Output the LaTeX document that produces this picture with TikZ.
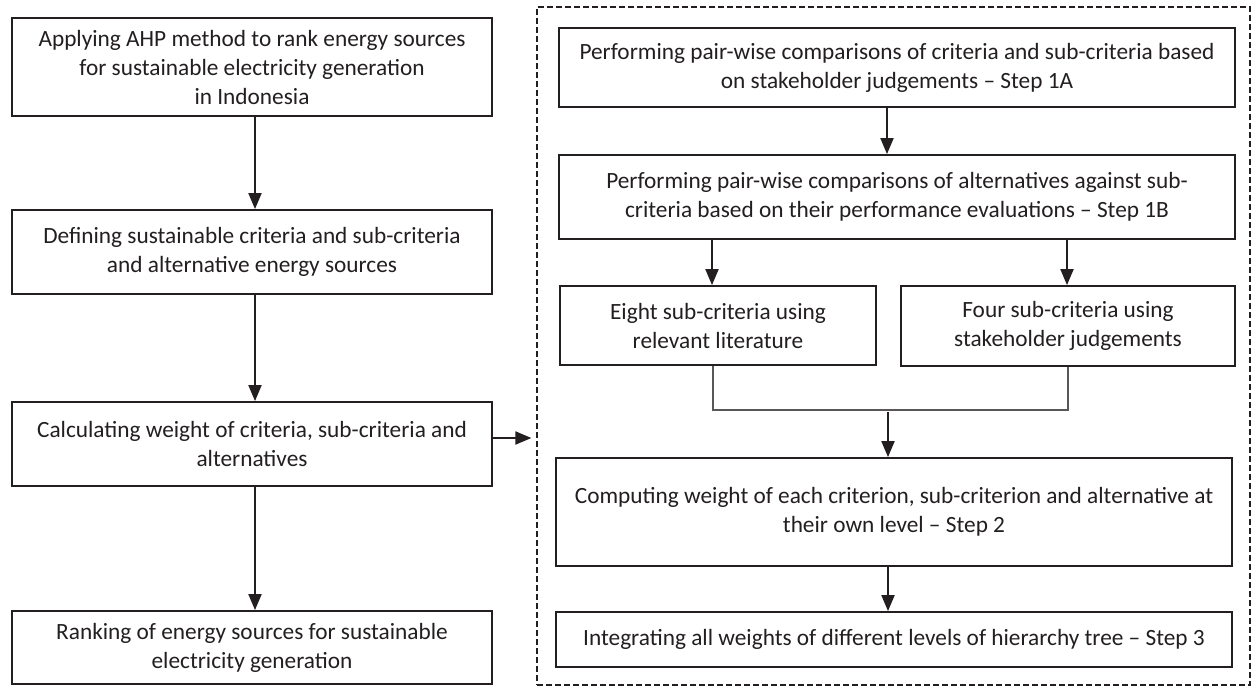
\documentclass[tikz,border=0pt]{standalone}
\usepackage{fontspec}
\setmainfont{Carlito}
\usetikzlibrary{arrows.meta}
\definecolor{ink}{HTML}{231F20}
\begin{document}
\begin{tikzpicture}[x=1pt,y=-1pt,
  box/.style={draw=ink,line width=1.8pt,align=center,inner sep=0pt,
    font=\fontsize{23.3}{29}\selectfont,text=ink},
  arr/.style={draw=ink,line width=1.9pt,-{Triangle[length=16pt,width=13pt]}},
  thinline/.style={draw=ink!75,line width=1.1pt},
  frame/.style={draw=ink,line width=1.2pt,dash pattern=on 6pt off 3pt,inner sep=0pt}]
\useasboundingbox (0,0) rectangle (1254,686);
\fill[white] (0,0) rectangle (1254,686);
% left column
\node[box,minimum width=480,minimum height=98] (b1) at (252,67)
  {Applying AHP method to rank energy sources\\for sustainable electricity generation\\in Indonesia};
\node[box,minimum width=480,minimum height=84] (b2) at (252,252)
  {Defining sustainable criteria and sub-criteria\\and alternative energy sources};
\node[box,minimum width=480,minimum height=84] (b3) at (252,444)
  {Calculating weight of criteria, sub-criteria and\\alternatives};
\node[box,minimum width=480,minimum height=73] (b4) at (252,647.5)
  {Ranking of energy sources for sustainable\\electricity generation};
% dashed frame
\node[frame,minimum width=713,minimum height=678] (fr) at (893.5,346) {};
% right column
\node[box,minimum width=676,minimum height=79] (r1) at (897,67.5)
  {Performing pair-wise comparisons of criteria and sub-criteria based\\on stakeholder judgements -- Step 1A};
\node[box,minimum width=676,minimum height=84] (r2) at (897,197)
  {Performing pair-wise comparisons of alternatives against sub-\\criteria based on their performance evaluations -- Step 1B};
\node[box,minimum width=316,minimum height=79] (r3a) at (718,325.5)
  {Eight sub-criteria using\\relevant literature};
\node[box,minimum width=334,minimum height=80] (r3b) at (1068,326)
  {Four sub-criteria using\\stakeholder judgements};
\node[box,minimum width=676,minimum height=108] (r4) at (894,512)
  {Computing weight of each criterion, sub-criterion and alternative at\\their own level -- Step 2};
\node[box,minimum width=676,minimum height=55] (r5) at (894,639.5)
  {Integrating all weights of different levels of hierarchy tree -- Step 3};
% helper coordinates
\coordinate (lx) at (255,0);
\coordinate (ha) at (0,438);
\coordinate (rx) at (887,0);
\coordinate (ca) at (712,0);
\coordinate (cb) at (1067,0);
\coordinate (m1) at (713,410);
\coordinate (m2) at (1068,410);
\coordinate (m3) at (888,412);
% left arrows
\draw[arr] (b1.south -| lx) -- (b2.north -| lx);
\draw[arr] (b2.south -| lx) -- (b3.north -| lx);
\draw[arr] (b3.south -| lx) -- (b4.north -| lx);
\draw[arr,shorten >=5pt] (b3.east |- ha) -- (fr.west |- ha);
% right arrows
\draw[arr] (r1.south -| rx) -- (r2.north -| rx);
\draw[arr] (r2.south -| ca) -- (r3a.north -| ca);
\draw[arr] (r2.south -| cb) -- (r3b.north -| cb);
\draw[thinline] (r3a.south -| m1) -- (m1) -- (m2) -- (r3b.south -| m2);
\draw[arr] (m3) -- (r4.north -| m3);
\draw[arr] (r4.south -| m3) -- (r5.north -| m3);
\end{tikzpicture}
\end{document}
